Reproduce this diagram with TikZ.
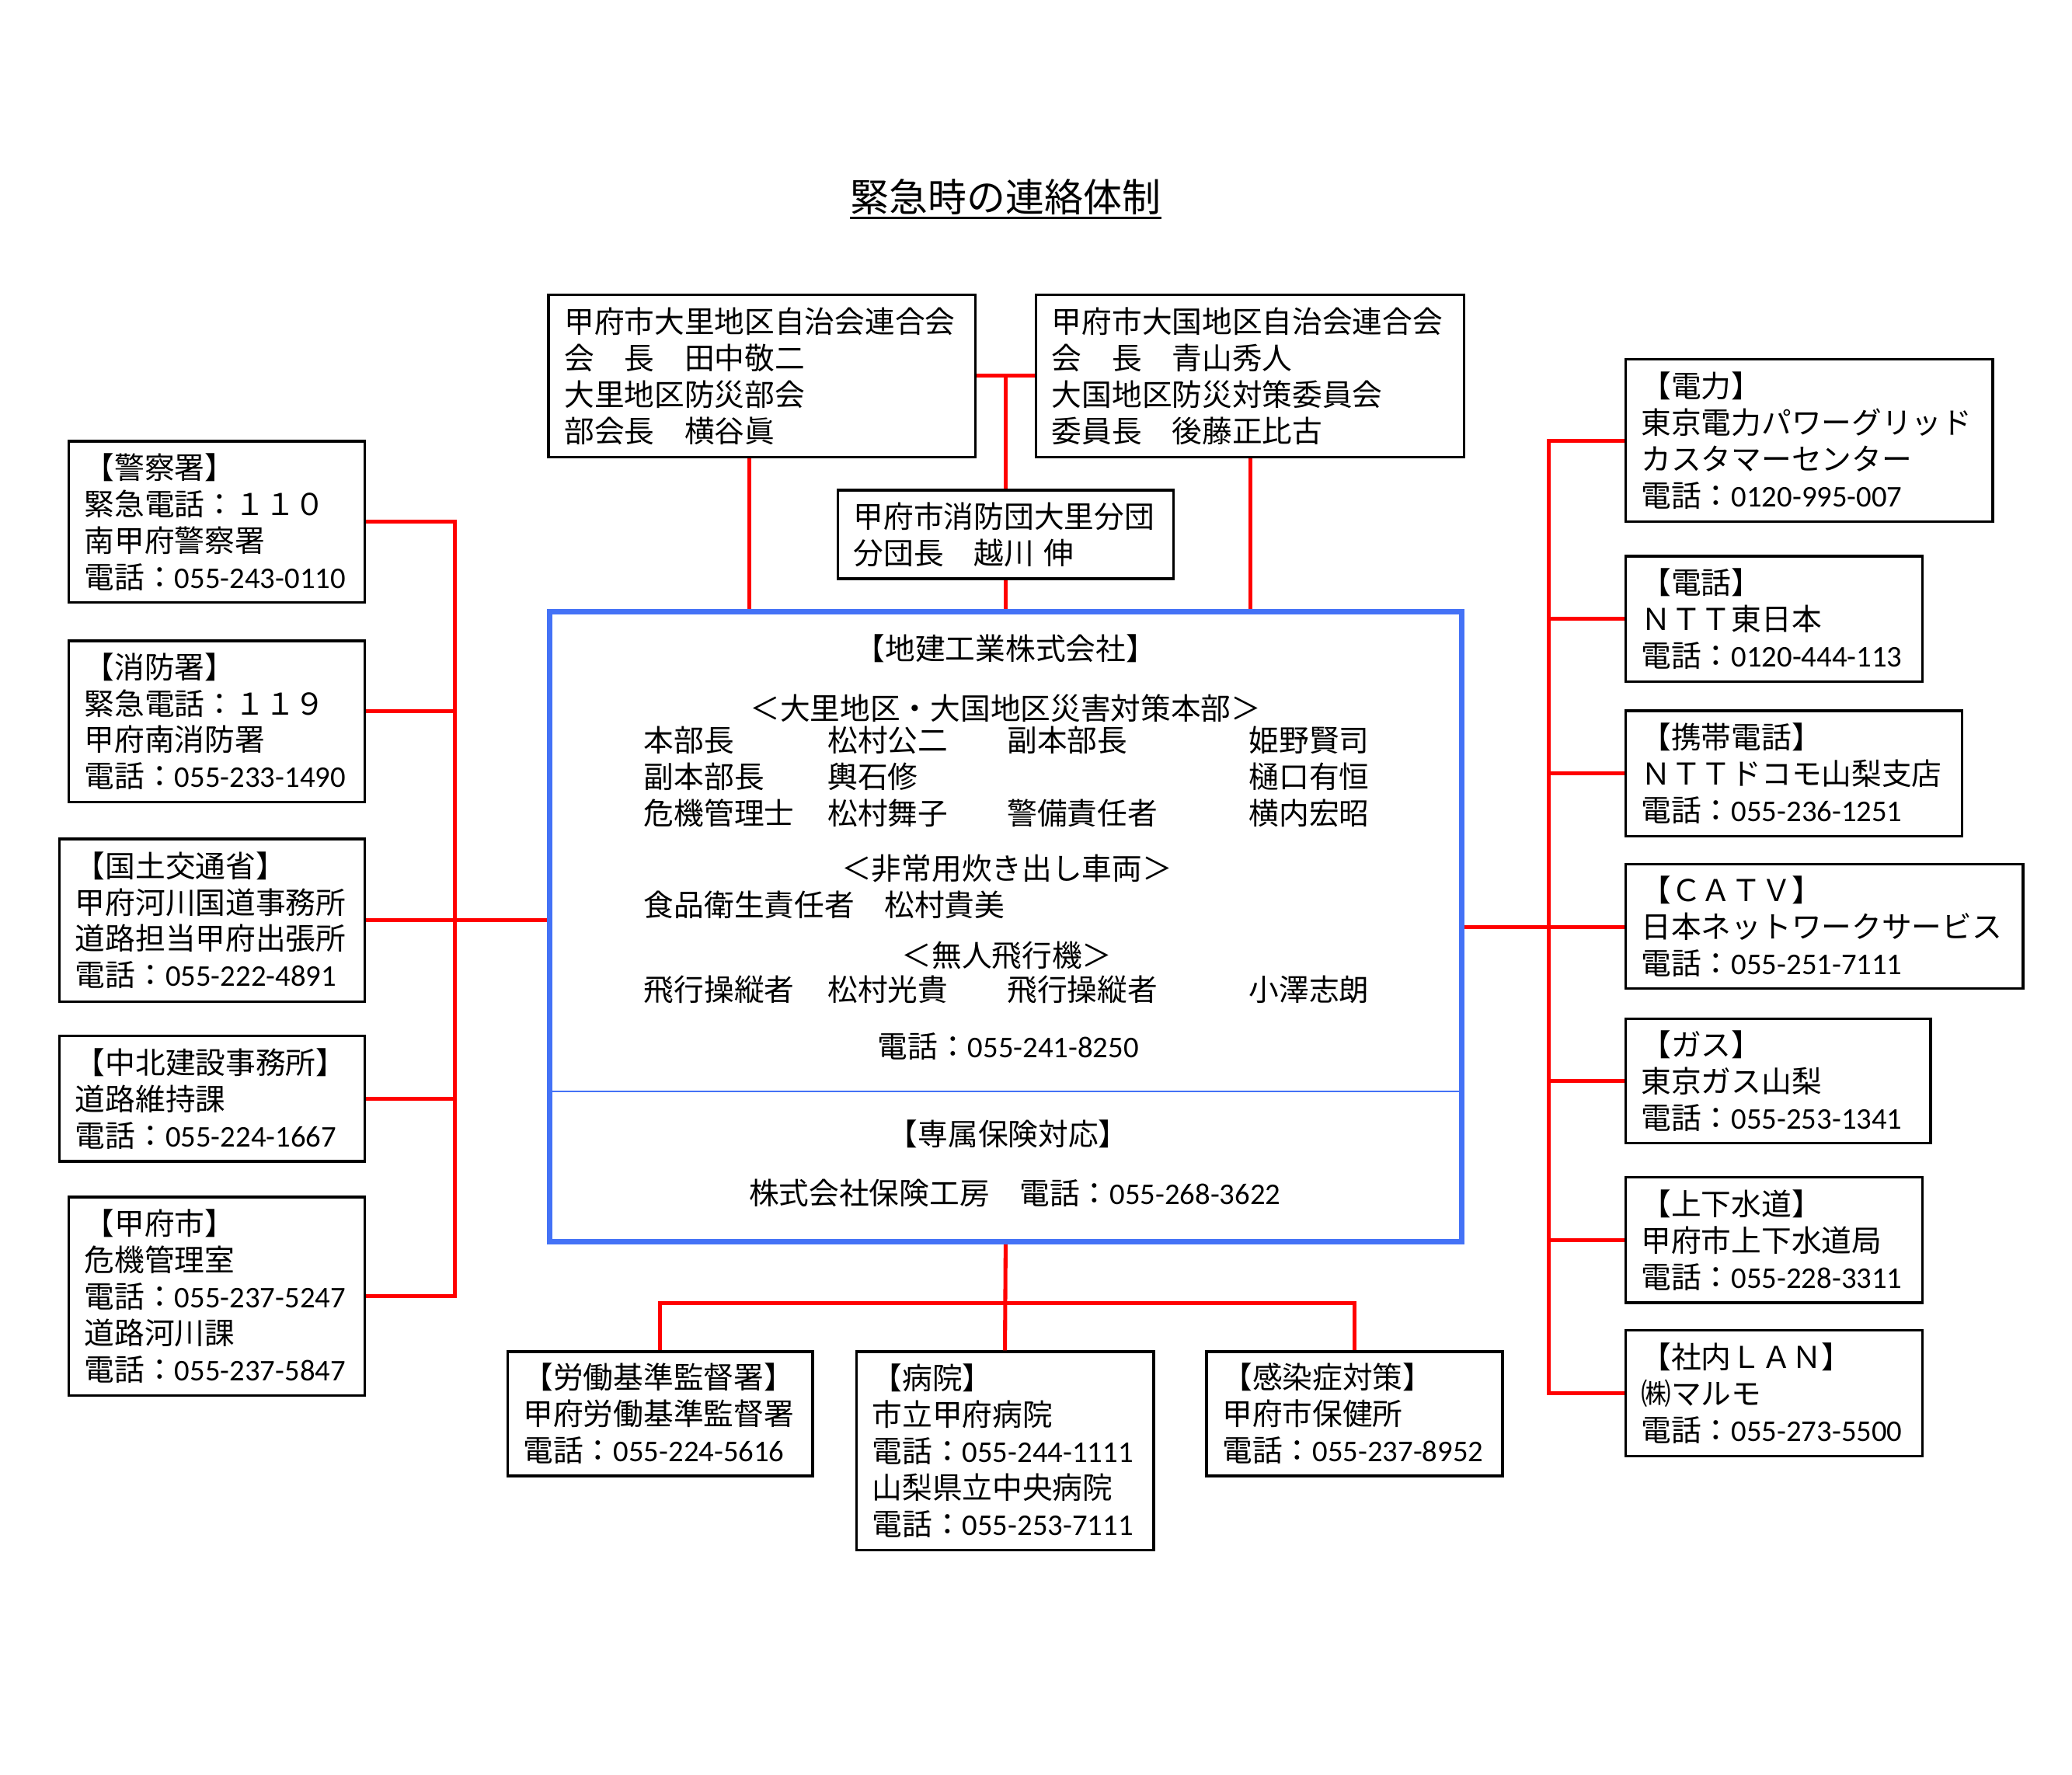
\documentclass[tikz,border=0pt]{standalone}
\usepackage{fontspec}
\setmainfont{Noto Sans CJK JP}
\newfontfamily\numfont{Carlito}
\definecolor{frameblue}{RGB}{68,114,246}
\newcommand{\bodysize}{\fontsize{12.95pt}{15.7pt}\selectfont}
\newcommand{\tel}[1]{電話：{\numfont #1}}

\begin{document}
\begin{tikzpicture}[x=0.02cm, y=-0.02cm,
		infobox/.style={draw, line width=1.1pt, rectangle, align=left, inner xsep=0.24cm, inner ysep=0pt, font=\bodysize},
		plain/.style={inner sep=0pt, font=\bodysize},
		redline/.style={draw=red, line width=1.7pt}
		]
	\useasboundingbox (0,0) rectangle (1568,1343);

	% Cím
	\node[inner xsep=0pt, inner ysep=1pt, font=\fontsize{16.7pt}{20pt}\selectfont] (title) at (761,149) {緊急時の連絡体制};
	\draw[line width=1pt] (title.south west) -- (title.south east);

	% Központi doboz
	% ----------------------
	\node[draw=frameblue, line width=2.3pt, rectangle, minimum width=13.8cm, minimum height=9.54cm] (main) at (761,701.5) {};
	\coordinate (split) at (761,826);
	\draw[frameblue, line width=0.6pt] (main.west |- split) -- (main.east |- split);

	\node[plain] (company) at (761,491) {【地建工業株式会社】};
	\node[plain] (honbu) at (761,536) {＜大里地区・大国地区災害対策本部＞};
	\node[plain, anchor=west] (staff) at (487,591) {\begin{tabular}{@{}p{2.78cm}@{}p{2.72cm}@{}p{3.66cm}@{}l@{}}
		本部長 & 松村公二 & 副本部長 & 姫野賢司\\
		副本部長 & 輿石修 & & 樋口有恒\\
		危機管理士 & 松村舞子 & 警備責任者 & 横内宏昭
	\end{tabular}};
	\node[plain] (kitchen) at (762,657) {＜非常用炊き出し車両＞};
	\node[plain, anchor=west] (eisei) at (487,685) {食品衛生責任者　松村貴美};
	\node[plain] (drone) at (762,723) {＜無人飛行機＞};
	\node[plain, anchor=west] (pilots) at (487,752) {\begin{tabular}{@{}p{2.78cm}@{}p{2.72cm}@{}p{3.66cm}@{}l@{}}
		飛行操縦者 & 松村光貴 & 飛行操縦者 & 小澤志朗
	\end{tabular}};
	\node[plain] (maintel) at (763,792) {\tel{055-241-8250}};
	\node[plain] (insure) at (763,858) {【専属保険対応】};
	\node[plain] (insuretel) at (768,903) {株式会社保険工房　\tel{055-268-3622}};

	% Felső dobozok
	% ----------------------
	\node[infobox, text width=5.98cm, minimum height=2.46cm] (ozato) at (576.5,284.5) {甲府市大里地区自治会連合会\\会　長　田中敬二\\大里地区防災部会\\部会長　横谷眞};
	\node[infobox, text width=6.0cm, minimum height=2.46cm] (okuni) at (946,284.5) {甲府市大国地区自治会連合会\\会　長　青山秀人\\大国地区防災対策委員会\\委員長　後藤正比古};
	\node[infobox, text width=4.6cm, minimum height=1.34cm] (shobodan) at (761,404.5) {甲府市消防団大里分団\\分団長　越川 伸};

	% Bal oldali dobozok
	% ----------------------
	\node[infobox, text width=4.0cm, minimum height=2.44cm] (police) at (164,395) {【警察署】\\緊急電話：１１０\\南甲府警察署\\\tel{055-243-0110}};
	\node[infobox, text width=4.0cm, minimum height=2.44cm] (fire) at (164,546) {【消防署】\\緊急電話：１１９\\甲府南消防署\\\tel{055-233-1490}};
	\node[infobox, text width=4.14cm, minimum height=2.46cm] (mlit) at (160.5,696.5) {【国土交通省】\\甲府河川国道事務所\\道路担当甲府出張所\\\tel{055-222-4891}};
	\node[infobox, text width=4.14cm, minimum height=1.9cm] (chuhoku) at (160.5,831.5) {【中北建設事務所】\\道路維持課\\\tel{055-224-1667}};
	\node[infobox, text width=4.0cm, minimum height=3.0cm] (kofu) at (164,981) {【甲府市】\\危機管理室\\\tel{055-237-5247}\\道路河川課\\\tel{055-237-5847}};

	% Jobb oldali dobozok
	% ----------------------
	\node[infobox, text width=5.08cm, minimum height=2.46cm] (denryoku) at (1369,333.5) {【電力】\\東京電力パワーグリッド\\カスタマーセンター\\\tel{0120-995-007}};
	\node[infobox, text width=4.02cm, minimum height=1.9cm] (denwa) at (1342.5,468.5) {【電話】\\ＮＴＴ東日本\\\tel{0120-444-113}};
	\node[infobox, text width=4.62cm, minimum height=1.9cm] (keitai) at (1357.5,585.5) {【携帯電話】\\ＮＴＴドコモ山梨支店\\\tel{055-236-1251}};
	\node[infobox, text width=5.54cm, minimum height=1.88cm] (catv) at (1380.5,701) {【ＣＡＴＶ】\\日本ネットワークサービス\\\tel{055-251-7111}};
	\node[infobox, text width=4.14cm, minimum height=1.88cm] (gas) at (1345.5,818) {【ガス】\\東京ガス山梨\\\tel{055-253-1341}};
	\node[infobox, text width=4.02cm, minimum height=1.9cm] (suido) at (1342.5,938.5) {【上下水道】\\甲府市上下水道局\\\tel{055-228-3311}};
	\node[infobox, text width=4.02cm, minimum height=1.9cm] (lan) at (1342.5,1054.5) {【社内ＬＡＮ】\\㈱マルモ\\\tel{055-273-5500}};

	% Alsó dobozok
	% ----------------------
	\node[infobox, text width=4.14cm, minimum height=1.88cm] (roudou) at (499.5,1070) {【労働基準監督署】\\甲府労働基準監督署\\\tel{055-224-5616}};
	\node[infobox, text width=4.02cm, minimum height=3.0cm] (byouin) at (760.5,1098) {【病院】\\市立甲府病院\\\tel{055-244-1111}\\山梨県立中央病院\\\tel{055-253-7111}};
	\node[infobox, text width=4.0cm, minimum height=1.88cm] (kansen) at (1025,1070) {【感染症対策】\\甲府市保健所\\\tel{055-237-8952}};

	% Összeköttetések
	% ----------------------
	\coordinate (lbus) at (344,0);
	\coordinate (rbus) at (1172,0);
	\coordinate (bbus) at (761,986);

	% felül
	\draw[redline] (ozato.east) -- (okuni.west);
	\draw[redline] (shobodan.north) -- (shobodan.north |- ozato.east);
	\draw[redline] (shobodan.south) -- (main.north);
	\draw[redline] ([xshift=-0.19cm]ozato.south) -- ([xshift=-0.19cm]ozato.south |- main.north);
	\draw[redline] (okuni.south) -- (okuni.south |- main.north);

	% bal oldal
	\draw[redline] (police.east) -- (police.east -| lbus) -- (kofu.east -| lbus) -- (kofu.east);
	\draw[redline] ([yshift=0.16cm]fire.east) -- ([yshift=0.16cm]fire.east -| lbus);
	\draw[redline] (chuhoku.east) -- (chuhoku.east -| lbus);
	\draw[redline] (mlit.east) -- (mlit.east -| main.west);

	% jobb oldal
	\draw[redline] (denryoku.west) -- (denryoku.west -| rbus) -- (lan.west -| rbus) -- (lan.west);
	\foreach \n in {denwa,keitai,gas,suido}
		\draw[redline] (\n.west) -- (\n.west -| rbus);
	\draw[redline] (main.east) -- (main.east -| catv.west);

	% alul
	\draw[redline] (main.south) -- (byouin.north);
	\draw[redline] (roudou.north) |- (bbus) -| (kansen.north);

\end{tikzpicture}
\end{document}
